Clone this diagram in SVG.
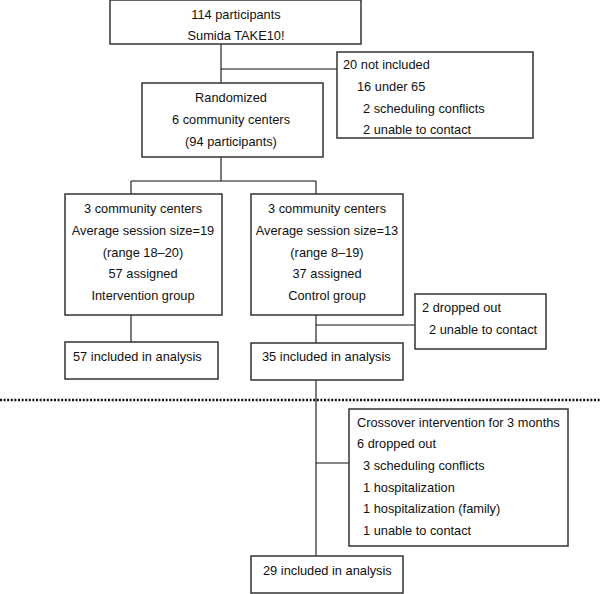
<svg xmlns="http://www.w3.org/2000/svg" width="600" height="594" viewBox="0 0 600 594">
<style>
.box{fill:#fff;stroke:#333;stroke-width:1.5}
.ln{fill:none;stroke:#111;stroke-width:1.1}
text{font-family:"Liberation Sans",Arial,sans-serif;font-size:12.8px;fill:#111;dominant-baseline:central}
.c{text-anchor:middle}
</style>
<rect width="600" height="594" fill="#fff"/>
<g id="connectors">
<path class="ln" d="M221,44 V83 M221,69 H337 M221,157 V181 M131,181 H316 M131,181 V194 M316,181 V194 M131,315 V342 M316,315 V343 M316,325 H415 M316,380 V556 M316,463 H349"/>
</g>
<line x1="0" y1="400" x2="600" y2="400" stroke="#111" stroke-width="2.5" stroke-dasharray="2 1.6"/>
<g id="n_top"><rect class="box" x="110" y="0" width="251" height="44"/>
<text class="c" x="236" y="14">114 participants</text><text class="c" x="236" y="35">Sumida TAKE10!</text></g>
<g id="n_excluded"><rect class="box" x="337" y="52" width="196" height="86"/>
<text x="343" y="64">20 not included</text><text x="357" y="86">16 under 65</text><text x="363" y="108">2 scheduling conflicts</text><text x="363" y="129">2 unable to contact</text></g>
<g id="n_random"><rect class="box" x="142" y="83" width="181" height="74"/>
<text class="c" x="231" y="97">Randomized</text><text class="c" x="231" y="119">6 community centers</text><text class="c" x="231" y="141">(94 participants)</text></g>
<g id="n_interv"><rect class="box" x="65" y="194" width="157" height="121"/>
<text class="c" x="143" y="208">3 community centers</text><text class="c" x="143" y="230">Average session size=19</text><text class="c" x="143" y="252">(range 18–20)</text><text class="c" x="143" y="273">57 assigned</text><text class="c" x="143" y="295">Intervention group</text></g>
<g id="n_control"><rect class="box" x="251" y="194" width="152" height="121"/>
<text class="c" x="327" y="208">3 community centers</text><text class="c" x="327" y="230">Average session size=13</text><text class="c" x="327" y="252">(range 8–19)</text><text class="c" x="327" y="273">37 assigned</text><text class="c" x="327" y="295">Control group</text></g>
<g id="n_drop1"><rect class="box" x="415" y="294" width="131" height="55"/>
<text x="422" y="307">2 dropped out</text><text x="429" y="329">2 unable to contact</text></g>
<g id="n_an57"><rect class="box" x="65" y="342" width="153" height="37"/>
<text x="73" y="356">57 included in analysis</text></g>
<g id="n_an35"><rect class="box" x="251" y="343" width="152" height="37"/>
<text x="262" y="356">35 included in analysis</text></g>
<g id="n_cross"><rect class="box" x="349" y="409" width="219" height="137"/>
<text x="357" y="422">Crossover intervention for 3 months</text><text x="357" y="443">6 dropped out</text><text x="363" y="465">3 scheduling conflicts</text><text x="363" y="487">1 hospitalization</text><text x="363" y="508">1 hospitalization (family)</text><text x="363" y="530">1 unable to contact</text></g>
<g id="n_an29"><rect class="box" x="251" y="556" width="152" height="37"/>
<text x="263" y="570">29 included in analysis</text></g>
</svg>
